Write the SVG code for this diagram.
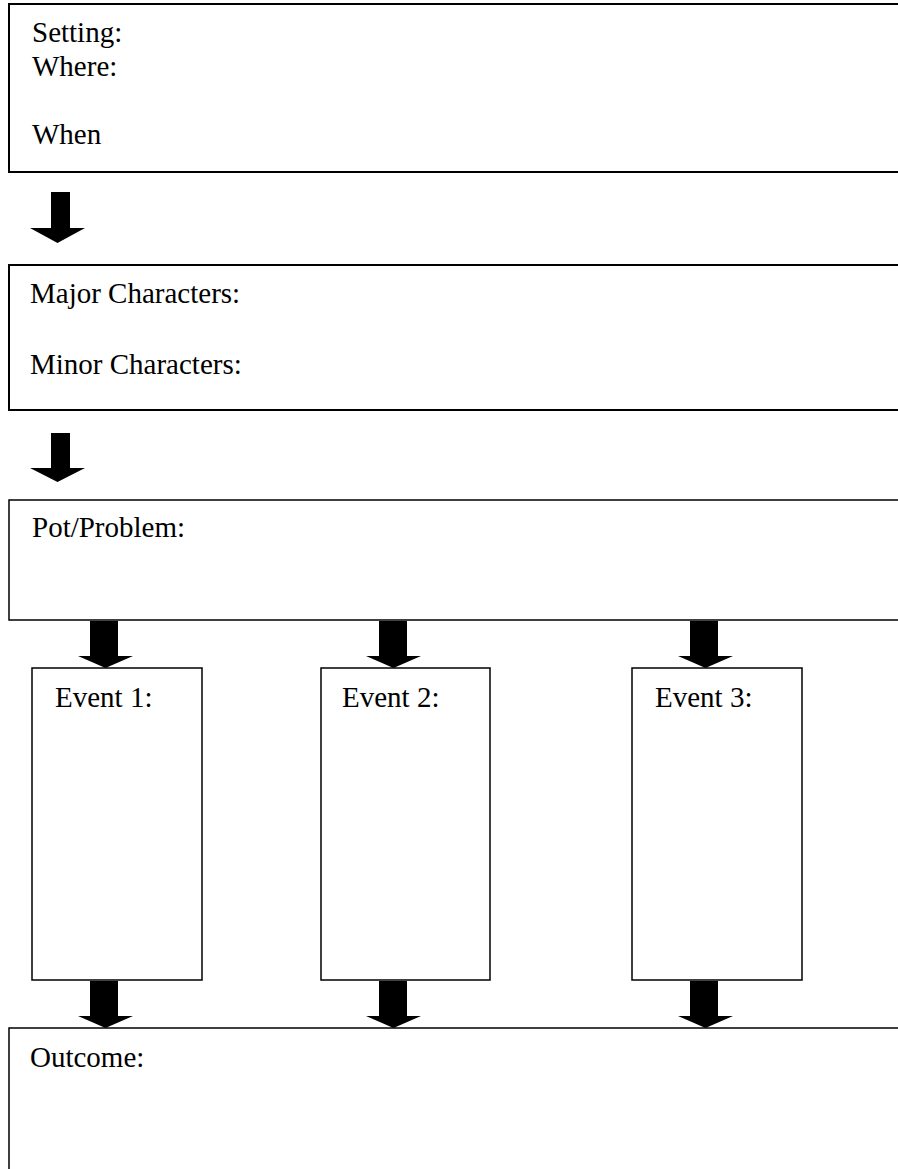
<svg xmlns="http://www.w3.org/2000/svg" width="898" height="1169" viewBox="0 0 898 1169">
<style>
.box{fill:#fff;stroke:#000;stroke-width:1.5}
.thick{stroke-width:2}
.lbl{font-family:"Liberation Serif","Times New Roman",serif;font-size:29px;fill:#000}
.arr{fill:#000}
</style>
<rect width="898" height="1169" fill="#fff"/>
<g id="setting">
<rect class="box thick" x="9" y="4" width="920" height="168"/>
<text class="lbl" x="32" y="42">Setting:</text>
<text class="lbl" x="32" y="76">Where:</text>
<text class="lbl" x="32" y="144">When</text>
</g>
<g id="characters">
<rect class="box thick" x="9" y="265" width="920" height="145"/>
<text class="lbl" x="30" y="303">Major Characters:</text>
<text class="lbl" x="30" y="374">Minor Characters:</text>
</g>
<g id="plot">
<rect class="box" x="9" y="500" width="920" height="120"/>
<text class="lbl" x="32" y="537">Pot/Problem:</text>
</g>
<g id="event1">
<rect class="box" x="32" y="668" width="170" height="312"/>
<text class="lbl" x="55" y="707">Event 1:</text>
</g>
<g id="event2">
<rect class="box" x="321" y="668" width="169" height="312"/>
<text class="lbl" x="342" y="707">Event 2:</text>
</g>
<g id="event3">
<rect class="box" x="632" y="668" width="170" height="312"/>
<text class="lbl" x="655" y="707">Event 3:</text>
</g>
<g id="outcome">
<rect class="box" x="9" y="1028" width="920" height="200"/>
<text class="lbl" x="30" y="1067">Outcome:</text>
</g>
<g id="connectors">
<polygon class="arr" points="51,192 70,192 70,228 85,228 57.5,243 30,228 51,228"/>
<polygon class="arr" points="51,433 70,433 70,468 85,468 57.5,482 30,468 51,468"/>
<polygon class="arr" points="90,621 118,621 118,656 133,656 105.5,668 78,656 90,656"/>
<polygon class="arr" points="379,621 407,621 407,656 421,656 393.5,668 366,656 379,656"/>
<polygon class="arr" points="690,621 718,621 718,656 733,656 705.5,668 678,656 690,656"/>
<polygon class="arr" points="90,981 118,981 118,1016 133,1016 105.5,1028 78,1016 90,1016"/>
<polygon class="arr" points="379,981 407,981 407,1016 421,1016 393.5,1028 366,1016 379,1016"/>
<polygon class="arr" points="690,981 718,981 718,1016 733,1016 705.5,1028 678,1016 690,1016"/>
</g>
</svg>
